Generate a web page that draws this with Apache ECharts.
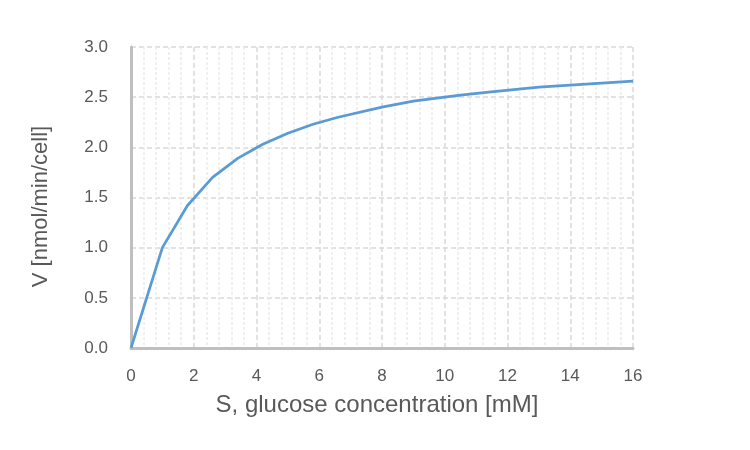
<!DOCTYPE html>
<html>
<head>
<meta charset="utf-8">
<script src="https://cdn.jsdelivr.net/npm/echarts@6/dist/echarts.min.js"></script>
<style>
  html, body { margin: 0; padding: 0; background: #fff; }
  #content { width: 750px; height: 450px; }
</style>
</head>
<body>
<div id="content"></div>
<script>
// glucose concentration S [mM] and uptake rate V [nmol/min/cell]
var glucose = [0, 1, 1.8, 2.6, 3.4, 4.2, 5, 5.8, 6.6, 8, 9, 10.5, 11.4, 13, 14.5, 16];
var rate = [0, 1.0, 1.42, 1.70, 1.89, 2.03, 2.14, 2.23, 2.30, 2.40, 2.46, 2.52, 2.55, 2.60, 2.63, 2.66];

var points = glucose.map(function (s, i) { return [s, rate[i]]; });

var fam = 'Liberation Sans, Arial, sans-serif';
var labelFont = { color: '#595959', fontSize: 17, fontFamily: fam };

var myChart = echarts.init(document.getElementById('content'));
myChart.setOption({
    animation: false,
    grid: { left: 131, right: 117, top: 47, bottom: 102 },
    xAxis: {
        type: 'value',
        min: 0,
        max: 16,
        interval: 2,
        name: 'S, glucose concentration [mM]',
        nameLocation: 'middle',
        nameGap: 45,
        nameTextStyle: { color: '#595959', fontSize: 24, fontFamily: fam, padding: [0, 0, 0, -10] },
        axisLine: { show: true, onZero: false, lineStyle: { color: '#bfbfbf', width: 3 } },
        axisTick: { show: false },
        axisLabel: Object.assign({ margin: 20 }, labelFont),
        splitLine: { show: true, lineStyle: { color: '#d9d9d9', type: [5, 3], width: 1.5 } },
        minorTick: { show: false, splitNumber: 5 },
        minorSplitLine: { show: true, lineStyle: { color: '#ebebeb', type: [3, 2], width: 1.5 } }
    },
    yAxis: {
        type: 'value',
        min: 0,
        max: 3,
        interval: 0.5,
        name: 'V [nmol/min/cell]',
        nameLocation: 'middle',
        nameGap: 79,
        nameTextStyle: { color: '#595959', fontSize: 22, fontFamily: fam, padding: [0, 18, 0, 0] },
        axisLine: { show: true, lineStyle: { color: '#bfbfbf', width: 3 } },
        axisTick: { show: false },
        axisLabel: Object.assign({ margin: 23, formatter: function (v) { return v.toFixed(1); } }, labelFont),
        splitLine: { show: true, lineStyle: { color: '#d9d9d9', type: [5, 3], width: 1.5 } }
    },
    series: [
        {
            name: 'V',
            type: 'line',
            data: points,
            showSymbol: false,
            smooth: false,
            lineStyle: { color: '#5b9bd5', width: 2.75 },
            z: 5
        }
    ]
});
</script>
</body>
</html>
